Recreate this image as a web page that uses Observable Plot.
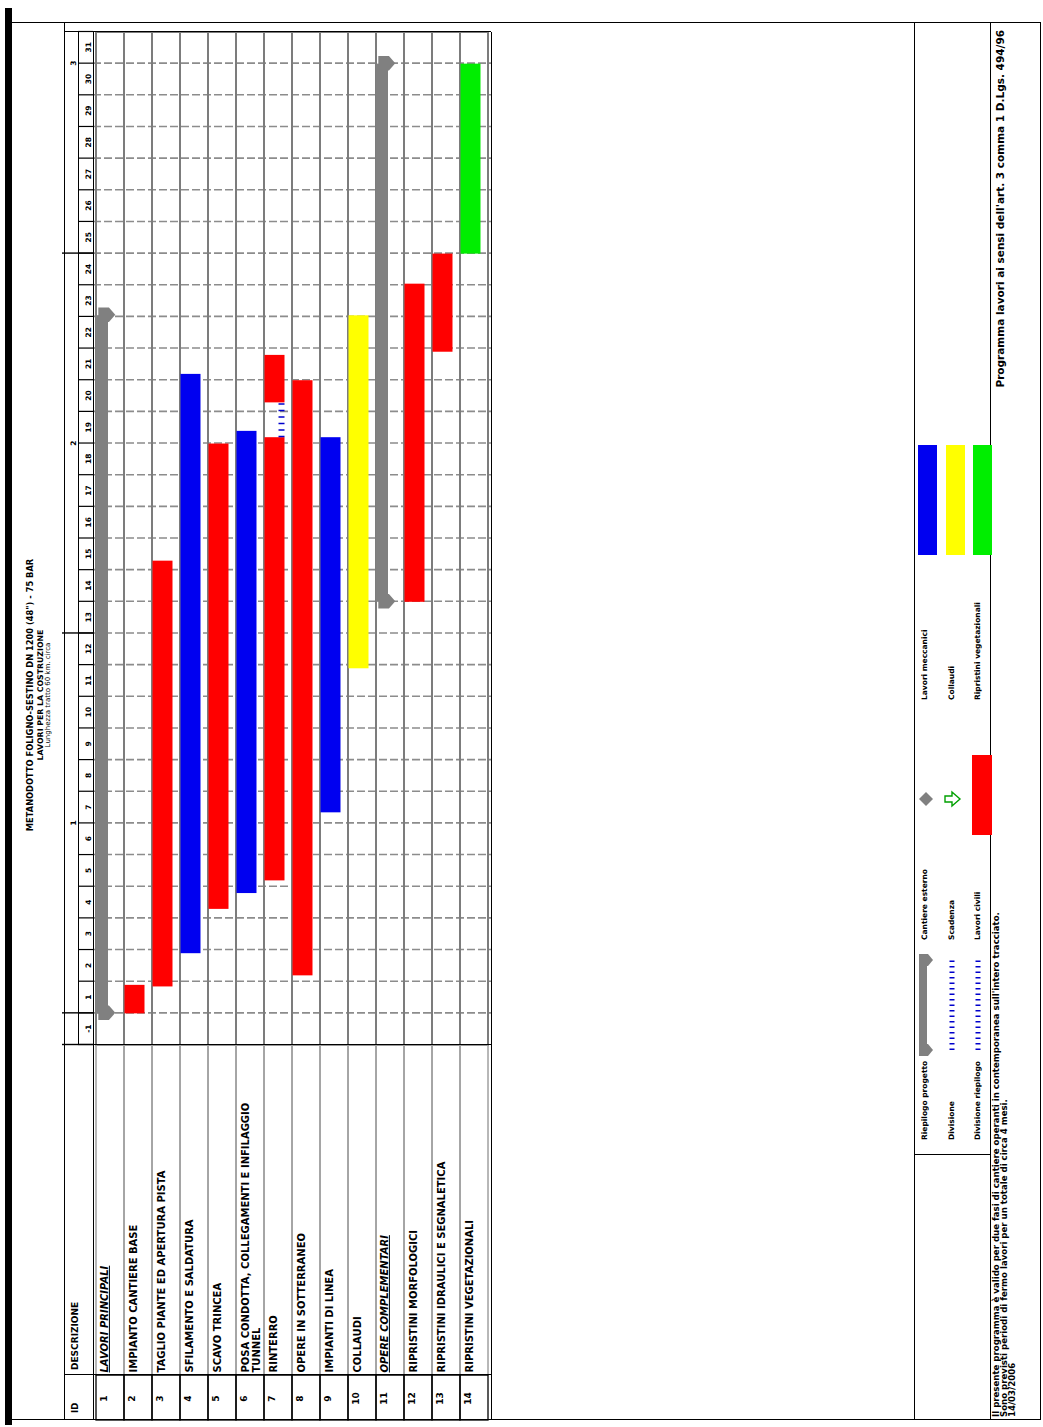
<!DOCTYPE html>
<html><head><meta charset="utf-8">
<script src="https://cdn.jsdelivr.net/npm/d3@7"></script>
<script src="https://cdn.jsdelivr.net/npm/@observablehq/plot@0.6"></script>
<style>
html,body{margin:0;padding:0;background:#fff;overflow:hidden;width:1043px;height:1427px;}
#page{position:absolute;left:0;top:0;width:1427px;height:1043px;transform-origin:0 0;transform:translate(0px,1427px) rotate(-90deg);font-family:"DejaVu Sans",sans-serif;font-weight:bold;color:#000;}
#page > svg{position:absolute;left:0;top:0;}
.box{position:absolute;box-sizing:border-box;}
.hl{position:absolute;height:0;border-top:1.5px solid #000;}
.vl{position:absolute;width:0;border-left:1.5px solid #000;}
.t{position:absolute;white-space:nowrap;line-height:1;}
.lg{font-size:7.5px;transform:translateY(-50%);}
</style></head>
<body>
<div id="page"></div>
<script>
// ---------- data ----------
const taskIds = [1,2,3,4,5,6,7,8,9,10,11,12,13,14];
const taskNames = [
  "LAVORI PRINCIPALI",
  "IMPIANTO CANTIERE BASE",
  "TAGLIO PIANTE ED APERTURA PISTA",
  "SFILAMENTO E SALDATURA",
  "SCAVO TRINCEA",
  "POSA CONDOTTA, COLLEGAMENTI E INFILAGGIO\nTUNNEL",
  "RINTERRO",
  "OPERE IN SOTTERRANEO",
  "IMPIANTI DI LINEA",
  "COLLAUDI",
  "OPERE COMPLEMENTARI",
  "RIPRISTINI MORFOLOGICI",
  "RIPRISTINI IDRAULICI E SEGNALETICA",
  "RIPRISTINI VEGETAZIONALI"
];
const summaryIds = [1, 11];
const summaryStart = [0, 13.0];
const summaryEnd = [22.05, 30.0];

const typeNames = ["Lavori civili", "Lavori meccanici", "Collaudi", "Ripristini vegetazionali"];
const typeColors = ["#ff0000", "#0000f0", "#ffff00", "#00ee00"];

const barTask  = [2, 3, 4, 5, 6, 7, 7, 8, 9, 10, 12, 13, 14];
const barStart = [0, 0.85, 1.9, 3.3, 3.8, 4.2, 19.3, 1.2, 6.35, 10.9, 13.0, 20.9, 24.0];
const barEnd   = [0.9, 14.3, 20.2, 18.0, 18.4, 18.2, 20.8, 20.0, 18.2, 22.05, 23.05, 24.0, 30.0];
const barType  = ["Lavori civili","Lavori civili","Lavori meccanici","Lavori civili","Lavori meccanici",
                  "Lavori civili","Lavori civili","Lavori civili","Lavori meccanici","Collaudi",
                  "Lavori civili","Lavori civili","Ripristini vegetazionali"];

const splitTask = [7];
const splitStart = [18.2];
const splitEnd = [19.3];

const monthLabels = ["-1","1","2","3","4","5","6","7","8","9","10","11","12","13","14","15","16","17","18","19","20","21","22","23","24","25","26","27","28","29","30","31"];
const yearLabels = ["1","2","3"];
const yearBoundaries = [-1, 0, 12, 24];

// ---------- derived tables ----------
const tasks = taskIds.map((id, i) => ({id, name: taskNames[i], summary: summaryIds.includes(id)}));
const bars = barTask.map((t, i) => ({task: t, start: barStart[i], end: barEnd[i], type: barType[i]}));
const summaries = summaryIds.map((t, i) => ({task: t, start: summaryStart[i], end: summaryEnd[i]}));
const caps = summaries.flatMap(s => [{task: s.task, t: s.start}, {task: s.task, t: s.end}]);
const splits = splitTask.map((t, i) => ({task: t, start: splitStart[i], end: splitEnd[i]}));
const months = monthLabels.map((l, i) => ({label: l, start: i - 1, end: i, mid: i - 0.5}));
const monthEdges = [months[0].start, ...months.map(m => m.end)];
const years = yearLabels.map((l, i) => ({label: l, mid: 12 * i + 6}));
const xDomain = [monthEdges[0], monthEdges[monthEdges.length - 1]];

const capSymbol = {
  draw(ctx, size) {
    const s = Math.sqrt(size / Math.PI);
    const w = s * 0.85;
    ctx.moveTo(-w, -s);
    ctx.lineTo(w, -s);
    ctx.lineTo(w, s * 0.25);
    ctx.lineTo(0, s);
    ctx.lineTo(-w, s * 0.25);
    ctx.closePath();
  }
};

const GRAY = "#808080";

const chart = Plot.plot({
  width: 1427, height: 1043,
  marginLeft: 382, marginRight: 32, marginTop: 93, marginBottom: 552,
  x: {domain: xDomain, axis: null},
  y: {type: "band", domain: taskIds, padding: 0, axis: null},
  color: {domain: typeNames, range: typeColors},
  style: "background:transparent;font-family:'DejaVu Sans',sans-serif;font-weight:bold;color:#000;",
  marks: [
    // month gridlines
    Plot.ruleX(monthEdges.slice(1, -1), {stroke: "#8c8c8c", strokeWidth: 1.6, strokeDasharray: "8,3"}),
    // row separators: time area, description column, id column
    Plot.barX(tasks, {y: "id", x1: xDomain[0], x2: xDomain[1], fill: "none", stroke: "#7c7c7c", strokeWidth: 2}),
    Plot.barX(tasks, {y: "id", x1: xDomain[0], x2: xDomain[1], fill: "none", stroke: "#a0a0a0", strokeWidth: 1.5, insetLeft: -330, insetRight: 1013}),
    Plot.barX(tasks, {y: "id", x1: xDomain[0], x2: xDomain[1], fill: "none", stroke: "#000", strokeWidth: 1.3, insetLeft: -375, insetRight: 1343}),
    // header month cells & year boundaries
    Plot.ruleX(monthEdges, {stroke: "#000", strokeWidth: 1.2, insetTop: -15, insetBottom: 398}),
    Plot.ruleX(yearBoundaries, {stroke: "#000", strokeWidth: 1.4, insetTop: -31, insetBottom: 398}),
    Plot.text(months, {x: "mid", text: "label", frameAnchor: "top", dy: -7.5, fontSize: 7.5, fill: "#000"}),
    Plot.text(years, {x: "mid", text: "label", frameAnchor: "top", dy: -23, fontSize: 7.5, fill: "#000"}),
    // task bars
    Plot.barX(bars, {y: "task", x1: "start", x2: "end", fill: "type", insetTop: 0.5, insetBottom: 7.5}),
    Plot.ruleY(splits, {y: "task", x1: "start", x2: "end", stroke: "#0000cc", strokeWidth: 6, strokeDasharray: "1.5,5", dy: 3}),
    // summary bars
    Plot.barX(summaries, {y: "task", x1: "start", x2: "end", fill: GRAY, insetTop: 0, insetBottom: 16}),
    Plot.dot(caps, {x: "t", y: "task", symbol: capSymbol, r: 8.5, fill: GRAY, stroke: "none", dy: -3.7}),
    // description & ID column
    Plot.text(tasks.filter(d => !d.summary), {y: "id", text: "name", frameAnchor: "left", textAnchor: "start", lineAnchor: "top", lineHeight: 1.1, dx: -328, dy: -9.7, fontSize: 10, fill: "#000"}),
    Plot.text(tasks.filter(d => d.summary), {y: "id", text: "name", frameAnchor: "left", textAnchor: "start", lineAnchor: "top", dx: -328, dy: -9.7, fontSize: 10, fontStyle: "italic", fill: "#000"}),
    Plot.text(tasks, {y: "id", text: d => String(d.id), frameAnchor: "left", textAnchor: "middle", lineAnchor: "top", dx: -354, dy: -9.7, fontSize: 9, fill: "#000"})
  ]
});
d3.select(chart).selectAll("text")
  .filter(function() { return tasks.some(d => d.summary && d.name === this.textContent); })
  .attr("text-decoration", "underline");

const page = document.getElementById("page");
page.appendChild(chart);

// ---------- page furniture (landscape coordinates) ----------
function el(cls, css, html) {
  const d = document.createElement("div");
  d.className = cls;
  d.style.cssText = css;
  if (html != null) d.innerHTML = html;
  page.appendChild(d);
  return d;
}
// thick top rule and outer frame
el("box", "left:2px;top:5px;width:1417px;height:7px;background:#000;");
el("box", "left:7px;top:11px;width:1398px;height:1030px;border:1.5px solid #000;");
// table lines
el("hl", "left:7px;top:64px;width:1398px;");
el("hl", "left:382px;top:78px;width:1013px;");
el("hl", "left:7px;top:92.5px;width:1388px;");
el("hl", "left:7px;top:490.5px;width:1388px;");
el("vl", "left:51.5px;top:64px;height:427px;");
el("vl", "left:381.5px;top:64px;height:427px;");
el("vl", "left:1394.5px;top:64px;height:427px;");
// legend / footer lines
el("hl", "left:7px;top:914px;width:1398px;");
el("hl", "left:7px;top:989.5px;width:1398px;");
el("vl", "left:271.5px;top:914px;height:76px;");

// title
el("t", "left:0;width:1464px;top:26px;text-align:center;font-size:8.3px;", "METANODOTTO FOLIGNO-SESTINO DN 1200 (48\") - 75 BAR");
el("t", "left:0;width:1464px;top:36.5px;text-align:center;font-size:7.8px;", "LAVORI PER LA COSTRUZIONE");
el("t", "left:0;width:1464px;top:45px;text-align:center;font-size:7px;font-weight:normal;", "Lunghezza tratto 60 km. circa");

// headers
el("t", "left:14px;top:71px;font-size:8.5px;", "ID");
el("t", "left:57px;top:71px;font-size:9px;", "DESCRIZIONE");

// legend
const lgRows = [925, 952, 978];
[["Riepilogo progetto", "Divisione", "Divisione riepilogo", 287],
 ["Cantiere esterno", "Scadenza", "Lavori civili", 487],
 ["Lavori meccanici", "Collaudi", "Ripristini vegetazionali", 727]].forEach(col => {
  for (let r = 0; r < 3; r++) el("t lg", `left:${col[3]}px;top:${lgRows[r]}px;`, col[r]);
});
function svgEl(css, inner) {
  el("box", css, `<svg width="100%" height="100%" style="display:block;overflow:visible">${inner}</svg>`);
}
// summary symbol
svgEl("left:377px;top:918px;width:90px;height:16px;",
  `<rect x="0" y="1" width="90" height="8" fill="${GRAY}"/>
   <path d="M-6,1 L6,1 L6,10 L0,15 L-6,10Z" fill="${GRAY}"/>
   <path d="M84,1 L96,1 L96,10 L90,15 L84,10Z" fill="${GRAY}"/>`);
svgEl("left:377px;top:948px;width:90px;height:8px;",
  `<line x1="0" x2="90" y1="4" y2="4" stroke="#0000cc" stroke-width="5" stroke-dasharray="1.5,4"/>`);
svgEl("left:377px;top:974px;width:90px;height:8px;",
  `<line x1="0" x2="90" y1="4" y2="4" stroke="#0000cc" stroke-width="5" stroke-dasharray="1.5,4"/>`);
// milestone diamond
svgEl("left:620px;top:918px;width:16px;height:16px;",
  `<path d="M8,1 L15,8 L8,15 L1,8Z" fill="${GRAY}"/>`);
// deadline arrow
svgEl("left:620px;top:944px;width:16px;height:18px;",
  `<path d="M5,1 L11,1 L11,8 L15,8 L8,16 L1,8 L5,8Z" fill="none" stroke="#00a000" stroke-width="1.4"/>`);
// color swatches
svgEl("left:592px;top:972px;width:80px;height:20px;", `<rect width="80" height="20" fill="${typeColors[0]}"/>`);
svgEl("left:872px;top:918px;width:110px;height:19px;", `<rect width="110" height="19" fill="${typeColors[1]}"/>`);
svgEl("left:872px;top:946px;width:110px;height:19px;", `<rect width="110" height="19" fill="${typeColors[2]}"/>`);
svgEl("left:872px;top:973px;width:110px;height:19px;", `<rect width="110" height="19" fill="${typeColors[3]}"/>`);

// footer
el("t", "left:10px;top:991.5px;font-size:8.6px;line-height:8.2px;",
  "Il presente programma è valido per due fasi di cantiere operanti in contemporanea sull'intero tracciato.<br>Sono previsti periodi di fermo lavori per un totale di circa 4 mesi.<br>14/03/2006");
el("t", "right:30px;top:995px;font-size:10.5px;", "Programma lavori ai sensi dell'art. 3 comma 1 D.Lgs. 494/96");
</script>
</body></html>
